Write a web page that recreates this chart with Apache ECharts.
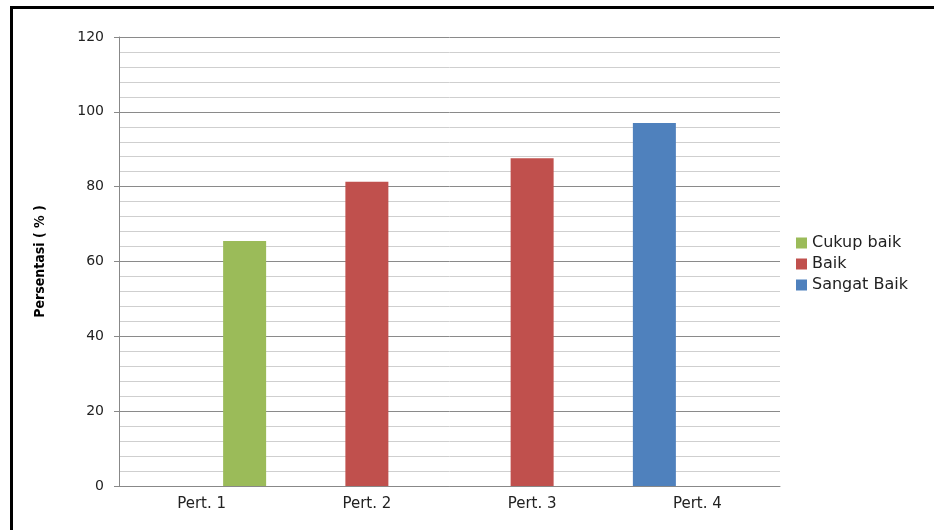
<!DOCTYPE html>
<html>
<head>
<meta charset="utf-8">
<script src="https://cdn.jsdelivr.net/npm/echarts@6/dist/echarts.min.js"></script>
<style>
html,body{margin:0;padding:0;background:#fff;}
#frame{position:absolute;left:10px;top:6px;width:930px;height:530px;border-top:3px solid #000;border-left:3px solid #000;}
#chart{position:absolute;left:0;top:0;width:934px;height:530px;}
</style>
</head>
<body>
<div id="frame"></div>
<div id="chart"></div>
<script>
const categories = ['Pert. 1', 'Pert. 2', 'Pert. 3', 'Pert. 4'];
const cukupBaik = [65.5, null, null, null];
const baik = [null, 81.3, 87.6, null];
const sangatBaik = [null, null, null, 97.0];
const legendOrder = ['Cukup baik', 'Baik', 'Sangat Baik'];
const yTicks = { min: 0, max: 120, interval: 20 };

const chart = echarts.init(document.getElementById('chart'), null, { renderer: 'canvas' });
const barBase = { type: 'bar', barWidth: 43, barGap: '0%' };
chart.setOption({
  animation: false,
  grid: { left: 119, right: 154, top: 37, bottom: 44 },
  legend: {
    data: legendOrder,
    orient: 'vertical',
    left: 791, top: 230,
    itemWidth: 11, itemHeight: 11, itemGap: 5,
    icon: 'rect',
    textStyle: { fontFamily: 'DejaVu Sans', fontSize: 16, color: '#222' }
  },
  xAxis: {
    type: 'category',
    data: categories,
    axisLine: { lineStyle: { color: '#888', width: 1 } },
    axisTick: { show: false },
    axisLabel: { fontFamily: 'DejaVu Sans', fontSize: 15, color: '#222', margin: 11 }
  },
  yAxis: {
    type: 'value',
    min: yTicks.min, max: yTicks.max, interval: yTicks.interval,
    name: 'Persentasi ( % )',
    nameLocation: 'middle',
    nameGap: 72,
    nameRotate: 90,
    nameTextStyle: { fontFamily: 'DejaVu Sans Condensed', fontWeight: 'bold', fontSize: 14, color: '#000' },
    axisLine: { show: true, lineStyle: { color: '#888', width: 1 } },
    axisTick: { show: true, length: 5, lineStyle: { color: '#888' } },
    axisLabel: { fontFamily: 'DejaVu Sans', fontSize: 14, color: '#222', margin: 15 },
    splitLine: { lineStyle: { color: '#8a8a8a', width: 1 } },
    minorTick: { show: false, splitNumber: 5 },
    minorSplitLine: { show: true, lineStyle: { color: '#cfcfcf', width: 1 } }
  },
  series: [
    Object.assign({ name: 'Sangat Baik', data: sangatBaik, itemStyle: { color: '#4F81BD' } }, barBase),
    Object.assign({ name: 'Baik', data: baik, itemStyle: { color: '#C0504D' } }, barBase),
    Object.assign({ name: 'Cukup baik', data: cukupBaik, itemStyle: { color: '#9BBB59' } }, barBase)
  ]
});
</script>
</body>
</html>
